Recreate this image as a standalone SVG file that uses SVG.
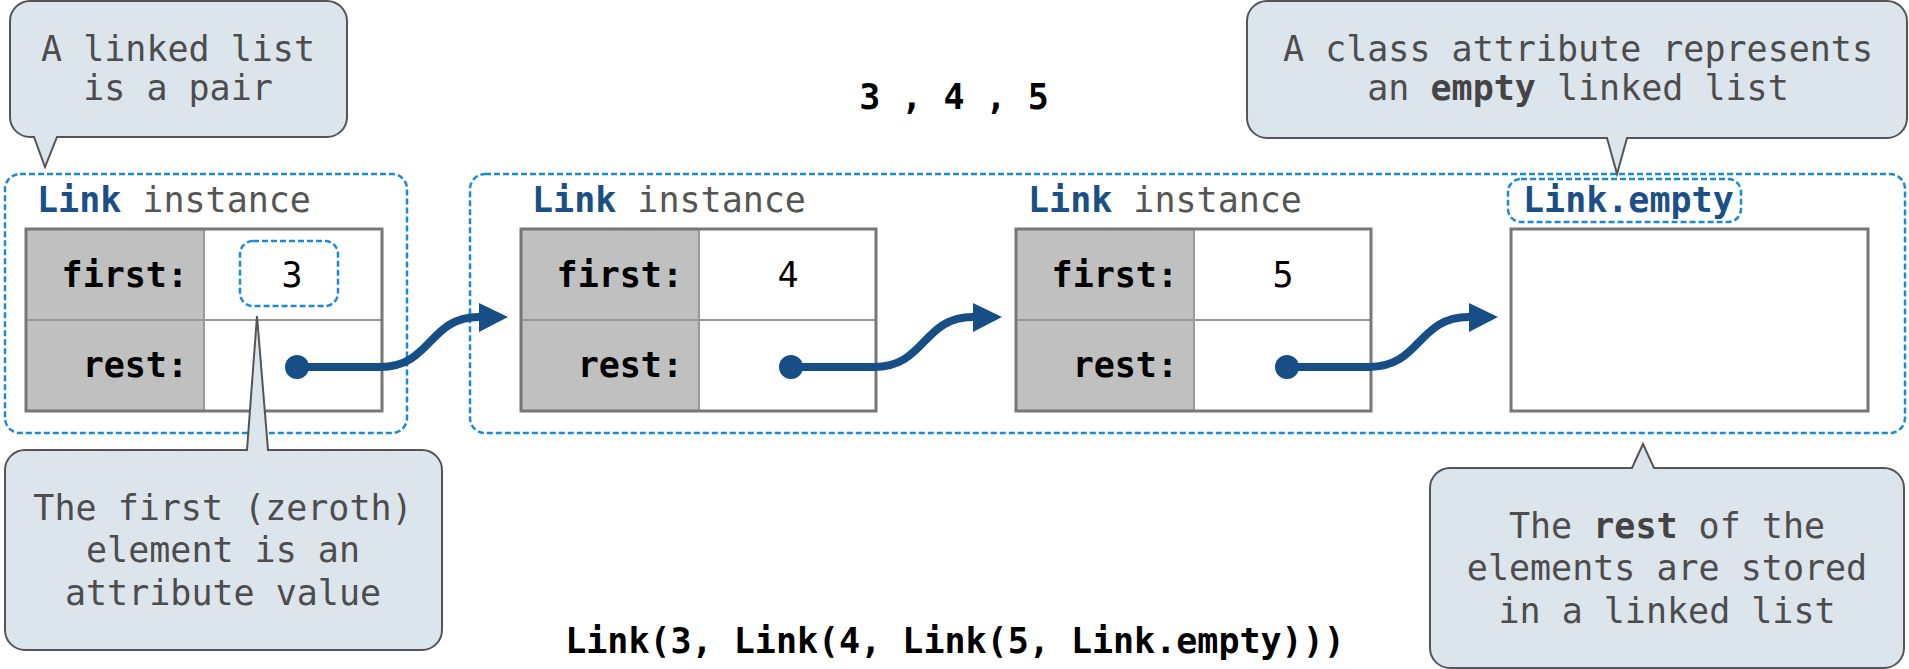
<svg xmlns="http://www.w3.org/2000/svg" width="1909" height="669" viewBox="0 0 1909 669">
<style>
text{font-family:"DejaVu Sans Mono","Liberation Mono",monospace;font-size:35px}
.c{fill:#4d4d4d;text-anchor:middle}
.b{font-weight:bold}
.kw{font-weight:bold;fill:#1b4f87}
.gr{fill:#555}
.lab{font-weight:bold;fill:#000;text-anchor:end}
.val{fill:#000;text-anchor:middle}
.call{fill:#dce4ec;stroke:#555;stroke-width:2}
.dash{fill:none;stroke:#1b8ad6;stroke-width:2.5;stroke-dasharray:6 3}
.key{fill:#c0c0c0}
.cellw{fill:#fff}
.inner{stroke:#999;stroke-width:2;fill:none}
.outer{fill:none;stroke:#777;stroke-width:3}
.wire{fill:none;stroke:#174e86;stroke-width:8}
.dot{fill:#174e86}
.head{fill:#174e86}
</style>

<g id="frame-first">
<rect class="dash" x="5" y="174" width="402" height="259" rx="15"/>
</g>
<g id="frame-rest">
<rect class="dash" x="470" y="174" width="1435" height="259" rx="15"/>
</g>

<g id="link-3">
<text x="37" y="212"><tspan class="kw">Link</tspan><tspan class="gr"> instance</tspan></text>
<rect class="key" x="26" y="229" width="178" height="182"/>
<rect class="cellw" x="204" y="229" width="178" height="182"/>
<line class="inner" x1="26" y1="320" x2="382" y2="320"/>
<line class="inner" x1="204" y1="229" x2="204" y2="411"/>
<rect class="outer" x="26" y="229" width="356" height="182"/>
<text class="lab" x="188" y="287">first:</text>
<text class="lab" x="188" y="377">rest:</text>
<rect class="dash" x="240" y="241" width="98" height="65" rx="13"/>
<text class="val" x="292" y="287">3</text>
</g>

<g id="link-4">
<text x="532" y="212"><tspan class="kw">Link</tspan><tspan class="gr"> instance</tspan></text>
<rect class="key" x="521" y="229" width="178" height="182"/>
<rect class="cellw" x="699" y="229" width="177" height="182"/>
<line class="inner" x1="521" y1="320" x2="876" y2="320"/>
<line class="inner" x1="699" y1="229" x2="699" y2="411"/>
<rect class="outer" x="521" y="229" width="355" height="182"/>
<text class="lab" x="683" y="287">first:</text>
<text class="lab" x="683" y="377">rest:</text>
<text class="val" x="788" y="287">4</text>
</g>

<g id="link-5">
<text x="1028" y="212"><tspan class="kw">Link</tspan><tspan class="gr"> instance</tspan></text>
<rect class="key" x="1016" y="229" width="178" height="182"/>
<rect class="cellw" x="1194" y="229" width="177" height="182"/>
<line class="inner" x1="1016" y1="320" x2="1371" y2="320"/>
<line class="inner" x1="1194" y1="229" x2="1194" y2="411"/>
<rect class="outer" x="1016" y="229" width="355" height="182"/>
<text class="lab" x="1178" y="287">first:</text>
<text class="lab" x="1178" y="377">rest:</text>
<text class="val" x="1283" y="287">5</text>
</g>

<g id="link-empty">
<rect class="dash" x="1508" y="179" width="233" height="43" rx="13"/>
<text class="kw" x="1523" y="212">Link.empty</text>
<rect x="1511" y="229" width="357" height="182" fill="#fff" stroke="#777" stroke-width="3"/>
</g>

<g id="connectors">
<path class="wire" d="M297,367 H380 C432,367 428,317 479,317"/>
<circle class="dot" cx="297" cy="367" r="12"/>
<polygon class="head" points="479,303 508,317 479,332"/>
<path class="wire" d="M791,367 H874 C926,367 922,317 973,317"/>
<circle class="dot" cx="791" cy="367" r="12"/>
<polygon class="head" points="973,303 1002,317 973,332"/>
<path class="wire" d="M1287,367 H1369 C1421,367 1417,317 1469,317"/>
<circle class="dot" cx="1287" cy="367" r="12"/>
<polygon class="head" points="1469,303 1498,317 1469,332"/>
</g>

<g id="note-pair">
<path class="call" d="M30,1 H327 A20,20 0 0 1 347,21 V117 A20,20 0 0 1 327,137 H57 L45,167 L34,137 H30 A20,20 0 0 1 10,117 V21 A20,20 0 0 1 30,1 Z"/>
<text class="c" x="178" y="61">A linked list</text>
<text class="c" x="178" y="100">is a pair</text>
</g>

<g id="note-empty">
<path class="call" d="M1267,1 H1887 A20,20 0 0 1 1907,21 V118 A20,20 0 0 1 1887,138 H1627 L1617,174 L1607,138 H1267 A20,20 0 0 1 1247,118 V21 A20,20 0 0 1 1267,1 Z"/>
<text class="c" x="1578" y="61">A class attribute represents</text>
<text class="c" x="1578" y="100">an <tspan class="b" fill="#444">empty</tspan> linked list</text>
</g>

<g id="note-first">
<path class="call" d="M25,450 H247 L257,316 L268,450 H422 A20,20 0 0 1 442,470 V630 A20,20 0 0 1 422,650 H25 A20,20 0 0 1 5,630 V470 A20,20 0 0 1 25,450 Z"/>
<text class="c" x="223" y="520">The first (zeroth)</text>
<text class="c" x="223" y="562">element is an</text>
<text class="c" x="223" y="605">attribute value</text>
</g>

<g id="note-rest">
<path class="call" d="M1450,468 H1632 L1643,444 L1654,468 H1884 A20,20 0 0 1 1904,488 V648 A20,20 0 0 1 1884,668 H1450 A20,20 0 0 1 1430,648 V488 A20,20 0 0 1 1450,468 Z"/>
<text class="c" x="1667" y="538">The <tspan class="b" fill="#444">rest</tspan> of the</text>
<text class="c" x="1667" y="580">elements are stored</text>
<text class="c" x="1667" y="623">in a linked list</text>
</g>

<g id="captions">
<text class="b" x="954" y="109" text-anchor="middle">3 , 4 , 5</text>
<text class="b" x="955" y="653" text-anchor="middle">Link(3, Link(4, Link(5, Link.empty)))</text>
</g>
</svg>
